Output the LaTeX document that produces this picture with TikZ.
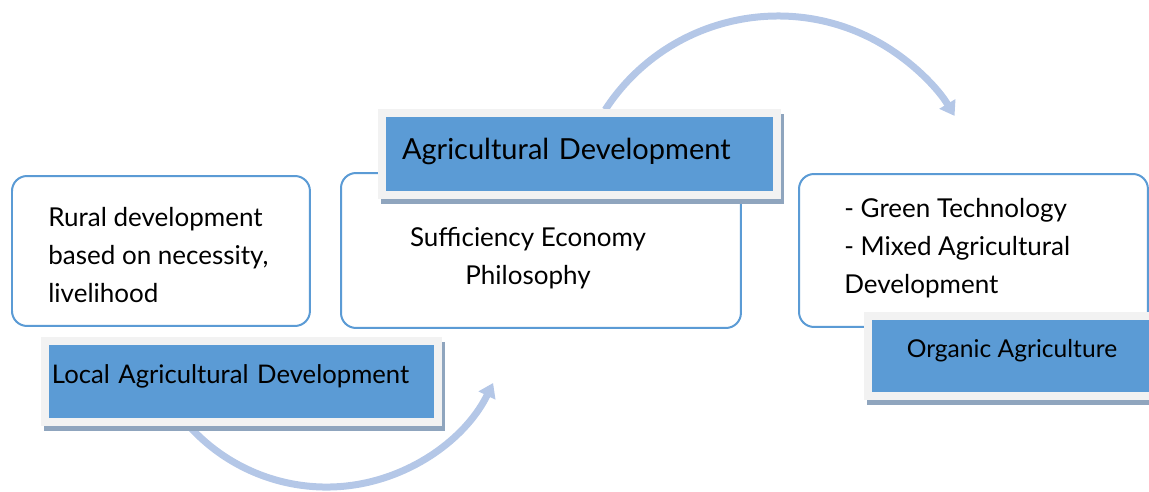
\documentclass[tikz,border=0pt]{standalone}
\usepackage{fontspec}
\setmainfont{Lato}
\usetikzlibrary{positioning}
\usetikzlibrary{arrows.meta, shadows}

\definecolor{boxline}{RGB}{91,155,213}
\definecolor{labelblue}{RGB}{91,155,213}
\definecolor{framegray}{RGB}{242,242,242}
\definecolor{shadowblue}{RGB}{143,165,190}
\definecolor{arcblue}{RGB}{180,199,231}

\begin{document}
\begin{tikzpicture}[
            x = 0.02cm, y = -0.02cm, % one unit per pixel, y down
            infobox/.style = {draw = boxline, line width = 0.04cm, rounded corners = 0.3cm, fill = white, inner sep = 0pt, anchor = north west},
            bodytext/.style = {inner sep = 0pt, font = \fontsize{14.8}{21.8}\selectfont},
            titlebox/.style = {fill = labelblue, draw = framegray, line width = 0.16cm, anchor = north west, inner ysep = 0pt, text depth = 0pt,
                drop shadow = {shadow xshift = 0.06cm, shadow yshift = -0.1cm, fill = shadowblue, draw = shadowblue, line width = 0.16cm, opacity = 1}},
            flow/.style = {draw = arcblue, line width = 0.14cm, -{Triangle[width = 0.36cm, length = 0.28cm]}} % curved arrows
        ]

        \useasboundingbox (0,0) rectangle (1149,491);

        % curved arrows, behind everything
        \coordinate (lowstart) at (186.7,423.3);
        \coordinate (highstart) at (605.2,109.8);
        \draw[flow] (lowstart) arc[start angle = 139, end angle = 26, radius = 185.3];
        \draw[flow] (highstart) arc[start angle = -147, end angle = -31, radius = 206];

        % rounded boxes
        \node[infobox, minimum width = 5.96cm, minimum height = 3cm] (ruralbox) at (11,175) {};
        \node[infobox, minimum width = 8cm, minimum height = 3.1cm] (sepbox) at (340,172) {};
        \node[infobox, minimum width = 6.98cm, minimum height = 3.06cm] (organicbox) at (798,173) {};

        \node[bodytext, align = left, anchor = west] (ruraltxt) at (48,255) {Rural development\\based on necessity,\\livelihood};
        \node[bodytext, align = center] (septxt) at (528,258) {Sufficiency Economy\\Philosophy};
        \node[bodytext, align = left, anchor = west] (organictxt) at (844,248) {- Green Technology\\- Mixed Agricultural\\Development};

        % blue titles
        \node[titlebox, minimum width = 7.86cm, minimum height = 1.62cm, text width = 7.58cm, inner xsep = 0.14cm, align = left,
            text height = 2.8pt, font = \fontsize{14.6}{17}\selectfont] (localtitle) at (41,337) {Local Agricultural Development};
        \node[titlebox, minimum width = 7.9cm, minimum height = 1.64cm, text width = 7.1cm, inner xsep = 0.4cm, align = left,
            text height = 6.8pt, font = \fontsize{16.5}{19}\selectfont] (agrititle) at (378,109) {Agricultural Development};
        \node[titlebox, minimum width = 5.76cm, minimum height = 1.6cm,
            text height = 1.2pt, font = \fontsize{14}{17}\selectfont] (organictitle) at (864,312) {Organic Agriculture};

\end{tikzpicture}
\end{document}
